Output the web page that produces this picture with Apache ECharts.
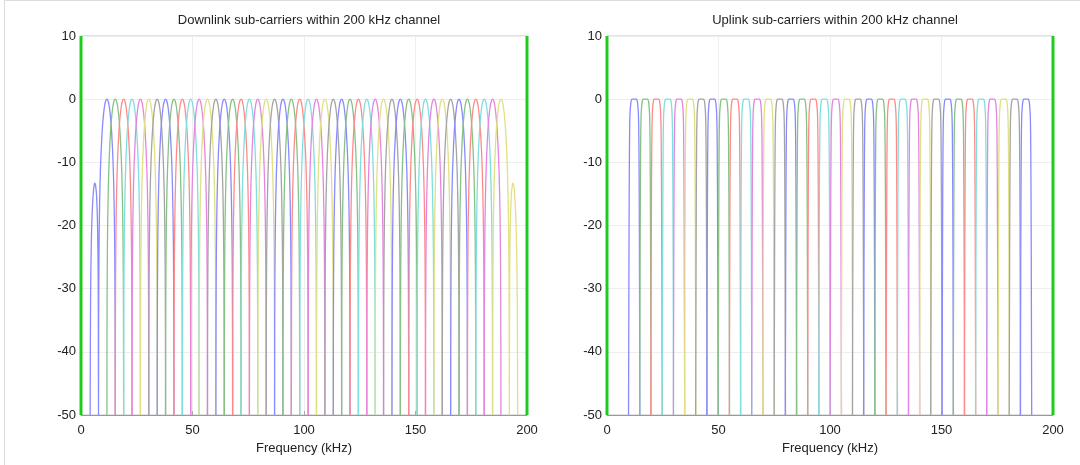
<!DOCTYPE html>
<html>
<head>
<meta charset="utf-8">
<script src="https://cdn.jsdelivr.net/npm/echarts@6/dist/echarts.min.js"></script>
<style>
html,body{margin:0;padding:0;background:#fff;}
#chart{width:1080px;height:465px;}
</style>
</head>
<body>
<div id="chart"></div>
<script>
// ---- data ----
var titles = ['Downlink sub-carriers within 200 kHz channel', 'Uplink sub-carriers within 200 kHz channel'];
var xAxisName = 'Frequency (kHz)';
var xTicks = [0, 50, 100, 150, 200];
var yTicks = [-50, -40, -30, -20, -10, 0, 10];
var channelEdges = [0, 200];

// downlink sub-carrier centre frequencies (kHz)
var dlCenters = [11.6, 15.36, 19.12, 22.88, 26.64, 30.4, 34.16, 37.92, 41.68, 45.44,
  49.2, 52.96, 56.72, 60.48, 64.24, 68.0, 71.76, 75.52, 79.28, 83.04,
  86.8, 90.56, 94.32, 98.08, 101.84, 105.6, 109.36, 113.12, 116.88, 120.64,
  124.4, 128.16, 131.92, 135.68, 139.44, 143.2, 146.96, 150.72, 154.48, 158.24,
  162.0, 165.76, 169.52, 173.28, 177.04, 180.8, 184.56, 188.32];
// uplink sub-carrier centre frequencies (kHz)
var ulCenters = [12.2, 17.2, 22.2, 27.3, 32.3, 37.3, 42.3, 47.3, 52.4, 57.4,
  62.4, 67.4, 72.4, 77.5, 82.5, 87.5, 92.5, 97.5, 102.6, 107.6,
  112.6, 117.6, 122.6, 127.7, 132.7, 137.7, 142.7, 147.7, 152.8, 157.8,
  162.8, 167.8, 172.8, 177.9, 182.9, 187.9];

// downlink main lobe: offset from centre (kHz) and level (dB), one side
var dlLobeOffset = [0, 0.5, 1.0, 1.5, 2.0, 2.5, 2.8, 3.0, 3.25, 3.45, 3.6, 3.7, 3.75];
var dlLobeDb     = [0, -0.25, -1.0, -2.4, -4.5, -7.7, -10.3, -12.6, -16.5, -21.3, -27.6, -37, -50];
// outer side lobe of the first / last downlink carrier (offset beyond centre)
var dlSideOffset = [3.75, 3.9, 4.2, 4.6, 5.0, 5.36, 5.7, 6.1, 6.6, 7.0, 7.3, 7.5];
var dlSideDb     = [-50, -28.3, -19.6, -15.4, -13.8, -13.3, -13.6, -14.9, -18.1, -23.2, -31.3, -50];

// uplink lobe: offset from centre (kHz) and level (dB), one side
var ulLobeOffset = [0, 0.6, 1.05, 1.3, 1.5, 1.7, 1.9, 2.05, 2.15, 2.25, 2.35, 2.45, 2.55];
var ulLobeDb     = [0, 0, 0, -0.2, -0.6, -1.3, -2.5, -5, -9, -15, -25, -38, -50];

// ---- styles ----
var palette = ['#8a8aff', '#86c286', '#ff8a8a', '#80dede', '#e286e2', '#e0e084', '#a4a4a4'];
var edgeColor = '#1ecb1e';
var FONT = '"Liberation Sans", Arial, sans-serif';

function lobe(center, offs, dbs, leftSide, rightSide) {
  var pts = [];
  var i;
  if (leftSide) {
    for (i = leftSide.o.length - 1; i >= 1; i--) pts.push([center - leftSide.o[i], leftSide.d[i]]);
  }
  for (i = offs.length - 1; i >= 1; i--) pts.push([center - offs[i], dbs[i]]);
  for (i = 0; i < offs.length; i++) pts.push([center + offs[i], dbs[i]]);
  if (rightSide) {
    for (i = 1; i < rightSide.o.length; i++) pts.push([center + rightSide.o[i], rightSide.d[i]]);
  }
  return pts;
}

var side = {o: dlSideOffset, d: dlSideDb};
var series = [];
dlCenters.forEach(function (c, k) {
  series.push({
    type: 'line', xAxisIndex: 0, yAxisIndex: 0, showSymbol: false, silent: true,
    smooth: 0.35,
    data: lobe(c, dlLobeOffset, dlLobeDb, k === 0 ? side : null, k === dlCenters.length - 1 ? side : null),
    lineStyle: {color: palette[k % palette.length], width: 1.3}
  });
});
ulCenters.forEach(function (c, k) {
  series.push({
    type: 'line', xAxisIndex: 1, yAxisIndex: 1, showSymbol: false, silent: true,
    smooth: 0.25,
    data: lobe(c, ulLobeOffset, ulLobeDb, null, null),
    lineStyle: {color: palette[k % palette.length], width: 1.3}
  });
});
[0, 1].forEach(function (g) {
  channelEdges.forEach(function (e) {
    series.push({
      type: 'line', xAxisIndex: g, yAxisIndex: g, showSymbol: false, silent: true,
      clip: false, z: 5,
      data: [[e, yTicks[0]], [e, yTicks[yTicks.length - 1]]],
      lineStyle: {color: edgeColor, width: 3}
    });
  });
});

var gridLefts = [81, 607];
var GW = 446;

function xAx(g) {
  return {
    type: 'value', gridIndex: g, min: xTicks[0], max: xTicks[xTicks.length - 1], interval: 50,
    name: xAxisName, nameLocation: 'middle', nameGap: 25,
    nameTextStyle: {fontFamily: FONT, fontSize: 13, color: '#222'},
    axisLine: {show: true, onZero: false, lineStyle: {color: '#999', width: 1}},
    axisTick: {show: true, inside: true, length: 4, lineStyle: {color: '#aaa'}},
    axisLabel: {fontFamily: FONT, fontSize: 13, color: '#222', margin: 9},
    splitLine: {show: true, lineStyle: {color: '#eeeeee', width: 1}}
  };
}
function yAx(g) {
  return {
    type: 'value', gridIndex: g, min: yTicks[0], max: yTicks[yTicks.length - 1], interval: 10,
    axisLine: {show: false, onZero: false},
    axisTick: {show: false},
    axisLabel: {fontFamily: FONT, fontSize: 13, color: '#222', margin: 5},
    splitLine: {show: true, lineStyle: {color: '#eeeeee', width: 1}}
  };
}

var chart = echarts.init(document.getElementById('chart'), null, {renderer: 'canvas'});
chart.setOption({
  animation: false,
  backgroundColor: '#ffffff',
  title: [0, 1].map(function (g) {
    return {
      text: titles[g], left: gridLefts[g] + GW / 2, top: 9, textAlign: 'center',
      textStyle: {fontFamily: FONT, fontSize: 13, fontWeight: 'normal', color: '#222'}
    };
  }),
  grid: [0, 1].map(function (g) {
    return {left: gridLefts[g], top: 36, width: GW, height: 379, show: true,
      borderColor: '#c4c4c4', borderWidth: 1, backgroundColor: 'transparent'};
  }),
  xAxis: [xAx(0), xAx(1)],
  yAxis: [yAx(0), yAx(1)],
  graphic: [
    {type: 'line', shape: {x1: 4.5, y1: 0, x2: 4.5, y2: 465}, style: {stroke: '#dcdcdc', lineWidth: 1}},
    {type: 'line', shape: {x1: 4, y1: 0.5, x2: 1080, y2: 0.5}, style: {stroke: '#dcdcdc', lineWidth: 1}}
  ],
  series: series
});
</script>
</body>
</html>
